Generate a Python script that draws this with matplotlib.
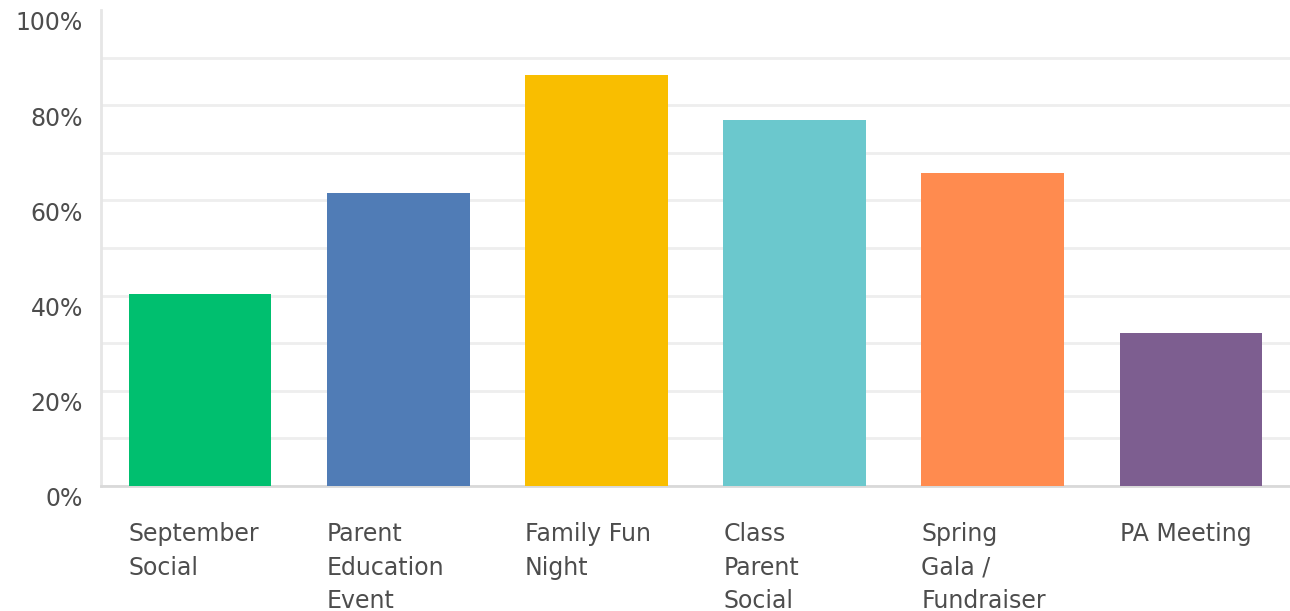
import numpy as np
import matplotlib.pyplot as plt
import matplotlib.transforms as mtransforms

# %% Data
categories = ['September\nSocial', 'Parent\nEducation\nEvent', 'Family Fun\nNight',
              'Class\nParent\nSocial', 'Spring\nGala /\nFundraiser', 'PA Meeting']
values = [40.3, 61.5, 86.3, 76.8, 65.7, 32.1]
colors = ['#00BF6F', '#507CB6', '#F9BE00', '#6BC8CD', '#FF8B4F', '#7D5E90']
y_ticks = [0, 20, 40, 60, 80, 100]
y_labels = ['0%', '20%', '40%', '60%', '80%', '100%']

plt.rcParams['font.family'] = ['DejaVu Sans']

# %% Plot
fig = plt.figure(figsize=(12.9, 6.11), dpi=100)
ax = fig.add_axes([101 / 1290, 125 / 611, 1 - 101 / 1290, 476 / 611])

x = np.arange(len(categories))
bar_width = 0.72
ax.bar(x, values, width=bar_width, color=colors, zorder=3)

ax.set_xlim(-0.5, len(categories) - 0.5)
ax.set_ylim(0, 100)

# gridlines every 10% (none drawn at the top)
ax.set_yticks(y_ticks)
ax.set_yticks(np.arange(10, 100, 20), minor=True)
ax.grid(axis='y', which='both', color='#eeeeee', linewidth=2, zorder=0)
ax.yaxis.get_major_ticks()[-1].gridline.set_visible(False)
ax.set_yticklabels(y_labels, fontsize=17, color='#4d4d4d')
ax.tick_params(axis='y', which='both', length=0, pad=13)
offset = mtransforms.ScaledTranslation(0, -11 / 100, fig.dpi_scale_trans)
for lab in ax.get_yticklabels():
    lab.set_transform(lab.get_transform() + offset)

# x labels left aligned with bar edges
ax.set_xticks(x - bar_width / 2)
ax.set_xticklabels(categories, fontsize=17, color='#4d4d4d', ha='left',
                   linespacing=1.5)
ax.tick_params(axis='x', length=0, pad=26)

for side in ['top', 'right']:
    ax.spines[side].set_visible(False)
ax.spines['left'].set_color('#e6e6e6')
ax.spines['left'].set_linewidth(2)
ax.spines['bottom'].set_color('#d9d9d9')
ax.spines['bottom'].set_linewidth(2)

fig.savefig('out.png', dpi=100)
